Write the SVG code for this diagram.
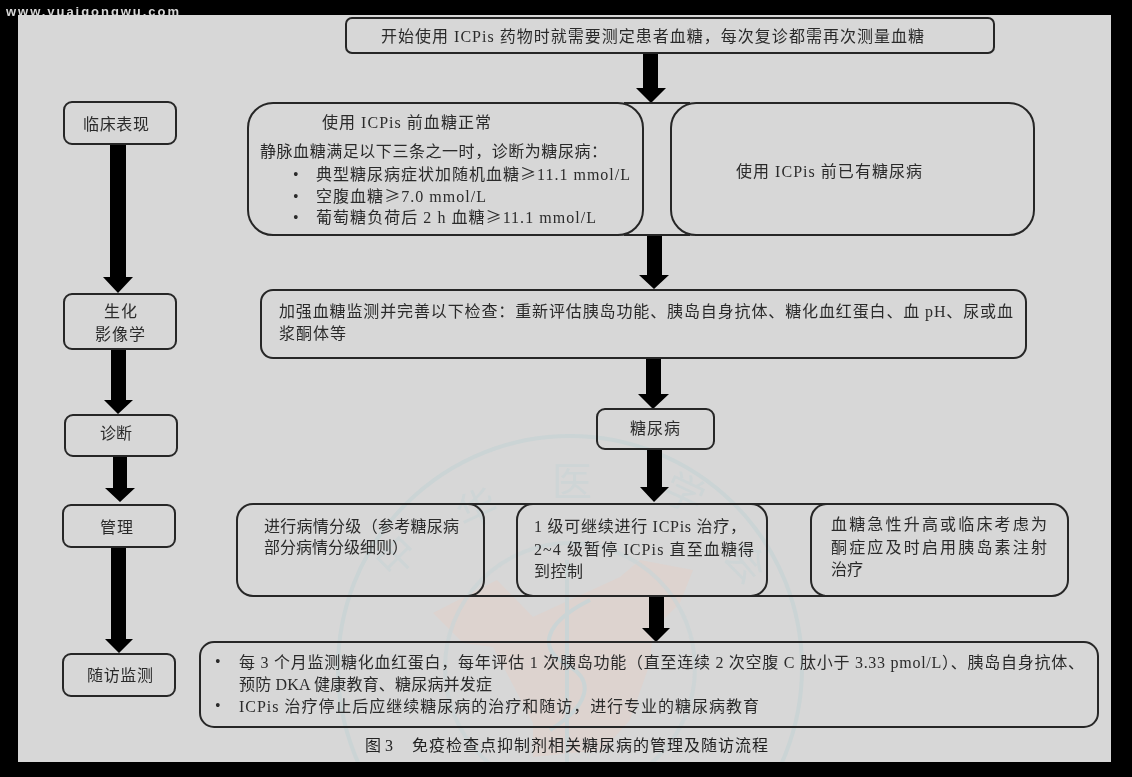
<svg xmlns="http://www.w3.org/2000/svg" width="1132" height="777" viewBox="0 0 1132 777">
<style>
text{font-family:"Liberation Serif","Noto Sans CJK SC",serif;font-size:16px;fill:#2c2c2c}
.g{font-family:"Noto Sans CJK SC",sans-serif}
.n{fill:none;stroke:#262626;stroke-width:2}
.a{fill:#000;stroke:none}
.wm{fill:none;stroke:#cbd4d5;stroke-width:4}
.wt{font-size:40px;fill:#ced5d6;font-family:"Noto Sans CJK SC",sans-serif}
</style>
<defs>
<clipPath id="panel"><rect x="18" y="15" width="1093" height="747"/></clipPath>
<filter id="soft" filterUnits="userSpaceOnUse" x="0" y="0" width="1132" height="777"><feGaussianBlur stdDeviation="0.45"/></filter>
</defs>
<rect width="1132" height="777" fill="#000"/>
<rect x="18" y="15" width="1093" height="747" fill="#d7d7d7"/>
<g filter="url(#soft)">
<text x="6" y="16" textLength="173" style="font-family:'Liberation Sans',sans-serif;font-size:13px;font-weight:bold;fill:#d8d8d8">www.yuaigongwu.com</text>
<g id="watermark" clip-path="url(#panel)">
<path d="M433 613L497 580 533 617 620 577 640 560 693 570 680 603 653 630 650 663 630 720 603 750 533 757 533 723 493 647 463 643Z" fill="#ddd3cf"/>
<circle class="wm" cx="570" cy="668" r="232"/>
<circle class="wm" cx="570" cy="668" r="125" stroke-opacity=".7"/>
<path class="wm" d="M567 560V762M590 600C540 625 540 650 567 665C595 680 590 705 550 730"/>
<text class="wt" x="552" y="496">医</text>
<text class="wt" transform="translate(465 530) rotate(-25)">华</text>
<text class="wt" transform="translate(392 580) rotate(-45)">中</text>
<text class="wt" transform="translate(660 498) rotate(25)">学</text>
<text class="wt" transform="translate(722 556) rotate(50)">会</text>
</g>
<g id="connectors">
<path class="a" d="M643 53H658V88H666L651 103 636 88H643Z"/>
<path class="a" d="M647 235H662V275H669L654 289 639 275H647Z"/>
<path class="a" d="M646 359H661V394H669L653 409 638 394H646Z"/>
<path class="a" d="M647 449H662V487H669L654 502 640 487H647Z"/>
<path class="a" d="M649 597H664V628H670L656 642 642 628H649Z"/>
<path class="a" d="M110 144H126V277H133L118 293 103 277H110Z"/>
<path class="a" d="M111 349H126V400H133L118 414 104 400H111Z"/>
<path class="a" d="M113 457H127V488H135L120 502 105 488H113Z"/>
<path class="a" d="M111 547H126V639H133L119 653 105 639H111Z"/>
<path d="M624 103H690M624 235H690M468 504H832M468 596H832" fill="none" stroke="#262626" stroke-width="2"/>
</g>
<g id="n-start"><rect class="n" x="346" y="18" width="648" height="35" rx="6"/><text x="381" y="42" textLength="543">开始使用 ICPis 药物时就需要测定患者血糖，每次复诊都需再次测量血糖</text></g>
<g id="n-clinical"><rect class="n" x="64" y="102" width="112" height="42" rx="8"/><text x="83" y="130" textLength="66">临床表现</text></g>
<g id="n-before-normal"><rect class="n" x="248" y="103" width="395" height="132" rx="25"/>
<text x="322" y="128" textLength="169">使用 ICPis 前血糖正常</text>
<text x="260" y="157" textLength="347">静脉血糖满足以下三条之一时，诊断为糖尿病：</text>
<text x="293" y="180">•</text><text x="316" y="180" textLength="314">典型糖尿病症状加随机血糖<tspan class="g">≥</tspan>11.1 mmol/L</text>
<text x="293" y="202">•</text><text x="316" y="202" textLength="170">空腹血糖<tspan class="g">≥</tspan>7.0 mmol/L</text>
<text x="293" y="223">•</text><text x="316" y="223" textLength="280">葡萄糖负荷后 2 h 血糖<tspan class="g">≥</tspan>11.1 mmol/L</text></g>
<g id="n-before-diabetes"><rect class="n" x="671" y="103" width="363" height="132" rx="25"/><text x="736" y="177" textLength="186">使用 ICPis 前已有糖尿病</text></g>
<g id="n-bio"><rect class="n" x="64" y="294" width="112" height="55" rx="8"/><text x="104" y="317" textLength="33">生化</text><text x="95" y="340" textLength="50">影像学</text></g>
<g id="n-tests"><rect class="n" x="261" y="290" width="765" height="68" rx="12"/><text x="279" y="317" textLength="734">加强血糖监测并完善以下检查：重新评估胰岛功能、胰岛自身抗体、糖化血红蛋白、血 pH、尿或血</text><text x="279" y="339" textLength="67">浆酮体等</text></g>
<g id="n-diagnosis"><rect class="n" x="65" y="415" width="112" height="41" rx="8"/><text x="100" y="439" textLength="32">诊断</text></g>
<g id="n-diabetes"><rect class="n" x="597" y="409" width="117" height="40" rx="8"/><text x="630" y="434" textLength="50">糖尿病</text></g>
<g id="n-manage"><rect class="n" x="63" y="505" width="112" height="42" rx="8"/><text x="100" y="533" textLength="33">管理</text></g>
<g id="n-grade"><rect class="n" x="237" y="504" width="247" height="92" rx="16"/><text x="264" y="532" textLength="195">进行病情分级（参考糖尿病</text><text x="264" y="553" textLength="144">部分病情分级细则）</text></g>
<g id="n-level"><rect class="n" x="517" y="504" width="250" height="92" rx="16"/><text x="534" y="532" textLength="212">1 级可继续进行 ICPis 治疗，</text><text x="534" y="555" textLength="220">2~4 级暂停 ICPis 直至血糖得</text><text x="534" y="577" textLength="49">到控制</text></g>
<g id="n-acute"><rect class="n" x="811" y="504" width="257" height="92" rx="16"/><text x="831" y="530" textLength="216">血糖急性升高或临床考虑为</text><text x="831" y="553" textLength="216">酮症应及时启用胰岛素注射</text><text x="831" y="575" textLength="32">治疗</text></g>
<g id="n-follow"><rect class="n" x="63" y="654" width="112" height="42" rx="8"/><text x="87" y="681" textLength="66">随访监测</text></g>
<g id="n-followup"><rect class="n" x="200" y="642" width="898" height="85" rx="14"/>
<text x="215" y="667">•</text><text x="239" y="668" textLength="845">每 3 个月监测糖化血红蛋白，每年评估 1 次胰岛功能（直至连续 2 次空腹 C 肽小于 3.33 pmol/L）、胰岛自身抗体、</text>
<text x="239" y="690" textLength="253">预防 DKA 健康教育、糖尿病并发症</text>
<text x="215" y="711">•</text><text x="239" y="712" textLength="520">ICPis 治疗停止后应继续糖尿病的治疗和随访，进行专业的糖尿病教育</text></g>
<g id="caption"><text x="365" y="751" textLength="28" style="fill:#222">图 3</text><text x="412" y="751" textLength="356" style="fill:#222">免疫检查点抑制剂相关糖尿病的管理及随访流程</text></g>
</g>
</svg>
